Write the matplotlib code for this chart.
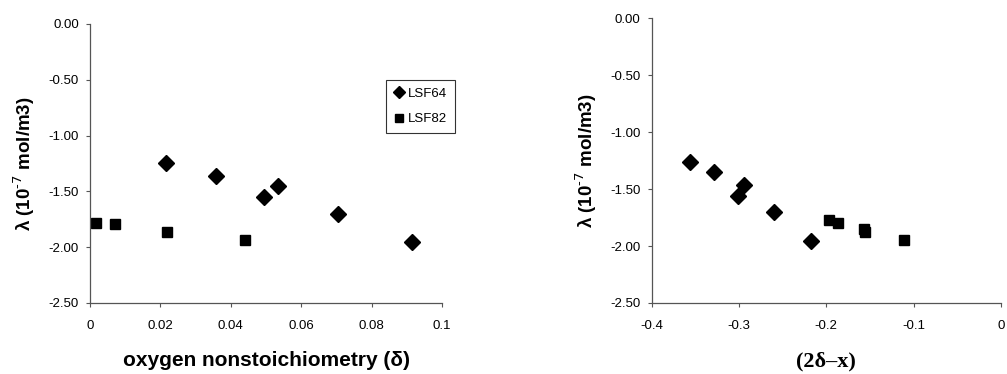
import numpy as np
import matplotlib.pyplot as plt

plt.rcParams['font.family'] = ['Liberation Sans', 'DejaVu Sans']
plt.rcParams['mathtext.default'] = 'bf'

# left panel: lambda vs oxygen nonstoichiometry
d64 = [0.0216, 0.0358, 0.0493, 0.0533, 0.0704, 0.0915]
l64 = [-1.25, -1.36, -1.55, -1.45, -1.70, -1.95]
d82 = [0.0016, 0.0071, 0.0218, 0.0441]
l82 = [-1.78, -1.79, -1.86, -1.94]

# right panel: lambda vs (2delta - x)
r64 = [-0.356, -0.328, -0.301, -0.294, -0.260, -0.218]
rl64 = [-1.26, -1.35, -1.56, -1.46, -1.70, -1.96]
r82 = [-0.197, -0.186, -0.157, -0.156, -0.111]
rl82 = [-1.77, -1.80, -1.85, -1.88, -1.95]

yticks = [0.0, -0.5, -1.0, -1.5, -2.0, -2.5]
ylab = r'λ (10$^{\text{-7}}$ mol/m3)'

fig = plt.figure(figsize=(10.07, 3.74), dpi=100)
ax1 = fig.add_axes([0.0894, 0.19, 0.3496, 0.746])
ax2 = fig.add_axes([0.647, 0.19, 0.347, 0.761])

def style(ax):
	for s in ['top', 'right']:
		ax.spines[s].set_visible(False)
	for s in ['left', 'bottom']:
		ax.spines[s].set_color('#555555')
		ax.spines[s].set_linewidth(0.9)
	ax.set_ylim(-2.5, 0)
	ax.set_yticks(yticks)
	ax.set_yticklabels(['%.2f' % v for v in yticks])
	ax.tick_params(axis='both', labelsize=9.5, length=3, color='#555555')
	ax.tick_params(axis='x', pad=9)
	ax.tick_params(axis='y', pad=5)
	ax.set_ylabel(ylab, fontsize=13.5, fontweight='bold', labelpad=8)

ax1.plot(d64, l64, 'D', color='black', ms=8.5, label='LSF64')
ax1.plot(d82, l82, 's', color='black', ms=7.5, label='LSF82')
ax1.set_xlim(0, 0.1)
ax1.set_xticks([0, 0.02, 0.04, 0.06, 0.08, 0.1])
ax1.set_xticklabels(['0', '0.02', '0.04', '0.06', '0.08', '0.1'])
style(ax1)
ax1.set_xlabel('oxygen nonstoichiometry (δ)', fontsize=15, fontweight='bold', labelpad=14)
leg = ax1.legend(loc='upper left', bbox_to_anchor=(0.84, 0.80), fontsize=9.5, frameon=True,
	fancybox=False, edgecolor='black', handletextpad=0.3, labelspacing=1.0, borderpad=0.6,
	handlelength=0.8, markerscale=0.7, borderaxespad=0)
leg.get_frame().set_linewidth(0.8)

ax2.plot(r64, rl64, 'D', color='black', ms=8.5)
ax2.plot(r82, rl82, 's', color='black', ms=7.5)
ax2.set_xlim(-0.4, 0)
ax2.set_xticks([-0.4, -0.3, -0.2, -0.1, 0])
ax2.set_xticklabels(['-0.4', '-0.3', '-0.2', '-0.1', '0'])
style(ax2)
ax2.set_xlabel('(2δ–x)', fontsize=16, fontweight='bold', family=['Liberation Serif', 'DejaVu Serif'], labelpad=14)

fig.savefig('out.png', dpi=100)
